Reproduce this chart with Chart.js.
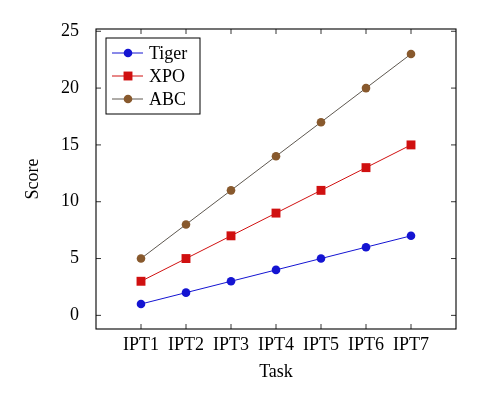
<!DOCTYPE html>
<html>
<head>
<meta charset="utf-8">
<script src="https://cdn.jsdelivr.net/npm/chart.js@4"></script>
<style>
    html, body { margin: 0; padding: 0; background: #fff; }
    #chart { display: block; }
</style>
</head>
<body>
<canvas id="chart" width="498" height="400"></canvas>
<script>
const tasks = ['IPT1', 'IPT2', 'IPT3', 'IPT4', 'IPT5', 'IPT6', 'IPT7'];
const tigerScores = [1, 2, 3, 4, 5, 6, 7];
const xpoScores = [3, 5, 7, 9, 11, 13, 15];
const abcScores = [5, 8, 11, 14, 17, 20, 23];
const yTicks = [0, 5, 10, 15, 20, 25];

const FONT = 'Liberation Serif';

function toPoints(values) {
    return values.map((v, i) => ({ x: i + 1, y: v }));
}

// pgfplots style: framed box with ticks pointing inwards on all sides
const frameTicks = {
    id: 'frameTicks',
    afterDatasetsDraw(chart) {
        const ctx = chart.ctx;
        const a = chart.chartArea;
        const xs = chart.scales.x;
        const ys = chart.scales.y;
        const len = 5;
        ctx.save();
        ctx.strokeStyle = '#000';
        ctx.lineWidth = 0.8;
        ctx.beginPath();
        xs.ticks.forEach((t) => {
            const px = xs.getPixelForValue(t.value);
            ctx.moveTo(px, a.bottom); ctx.lineTo(px, a.bottom - len);
            ctx.moveTo(px, a.top); ctx.lineTo(px, a.top + len);
        });
        ys.ticks.forEach((t) => {
            const py = ys.getPixelForValue(t.value);
            ctx.moveTo(a.left, py); ctx.lineTo(a.left + len, py);
            ctx.moveTo(a.right, py); ctx.lineTo(a.right - len, py);
        });
        ctx.stroke();
        ctx.lineWidth = 1.1;
        ctx.strokeRect(a.left, a.top, a.right - a.left, a.bottom - a.top);
        ctx.restore();
    }
};

// legend box inside the plot, top left
const boxLegend = {
    id: 'boxLegend',
    afterDraw(chart) {
        const ctx = chart.ctx;
        const a = chart.chartArea;
        const bx = a.left + 10, by = a.top + 9;
        const bw = 94, bh = 76;
        ctx.save();
        ctx.fillStyle = '#fff';
        ctx.fillRect(bx, by, bw, bh);
        ctx.strokeStyle = '#000';
        ctx.lineWidth = 1;
        ctx.strokeRect(bx, by, bw, bh);
        ctx.font = '18px "' + FONT + '"';
        ctx.textBaseline = 'middle';
        chart.data.datasets.forEach((ds, i) => {
            const y = by + 15 + i * 23;
            ctx.strokeStyle = ds.borderColor;
            ctx.lineWidth = 1;
            ctx.beginPath();
            ctx.moveTo(bx + 6, y);
            ctx.lineTo(bx + 37, y);
            ctx.stroke();
            ctx.fillStyle = ds.pointBackgroundColor;
            ctx.strokeStyle = 'rgba(0,0,0,0)';
            Chart.helpers.drawPoint(ctx, {
                pointStyle: ds.pointStyle,
                rotation: 0,
                radius: ds.pointRadius,
                borderWidth: 0
            }, bx + 22, y);
            ctx.fillStyle = '#000';
            ctx.fillText(ds.label, bx + 43, y + 1);
        });
        ctx.restore();
    }
};

new Chart(document.getElementById('chart'), {
    type: 'line',
    data: {
        datasets: [{
            label: 'Tiger',
            data: toPoints(tigerScores),
            borderColor: '#1414d2',
            pointBackgroundColor: '#1414d2',
            pointStyle: 'circle',
            pointRadius: 4.3
        }, {
            label: 'XPO',
            data: toPoints(xpoScores),
            borderColor: '#d01010',
            pointBackgroundColor: '#d01010',
            pointStyle: 'rect',
            pointRadius: 6.3
        }, {
            label: 'ABC',
            data: toPoints(abcScores),
            borderColor: '#5e5850',
            pointBackgroundColor: '#88592d',
            pointStyle: 'circle',
            pointRadius: 4.3
        }].map(ds => Object.assign(ds, {
            borderWidth: 1,
            pointBorderWidth: 0,
            pointBorderColor: 'rgba(0,0,0,0)',
            tension: 0,
            fill: false
        }))
    },
    options: {
        responsive: false,
        animation: false,
        layout: { padding: { left: 0, right: 42, top: 29, bottom: 0 } },
        plugins: {
            legend: { display: false },
            tooltip: { enabled: false }
        },
        scales: {
            x: {
                type: 'linear',
                min: 0,
                max: 8,
                afterBuildTicks: (scale) => {
                    scale.ticks = tasks.map((t, i) => ({ value: i + 1 }));
                },
                afterFit: (scale) => { scale.height = 71; },
                ticks: {
                    autoSkip: false,
                    maxRotation: 0,
                    padding: -3,
                    color: '#000',
                    font: { family: FONT, size: 18 },
                    callback: (v) => tasks[v - 1] || ''
                },
                grid: { display: false },
                border: { display: false },
                title: {
                    display: true,
                    text: 'Task',
                    color: '#000',
                    font: { family: FONT, size: 18 },
                    padding: { top: 0, bottom: 17 }
                }
            },
            y: {
                min: -1.2,
                max: 25.2,
                afterBuildTicks: (scale) => {
                    scale.ticks = yTicks.map(v => ({ value: v }));
                },
                afterFit: (scale) => { scale.width = 96; },
                ticks: {
                    padding: 9,
                    color: '#000',
                    font: { family: FONT, size: 18 }
                },
                grid: { display: false },
                border: { display: false },
                title: {
                    display: true,
                    text: 'Score',
                    color: '#000',
                    font: { family: FONT, size: 18 },
                    padding: { top: 22, bottom: 0 }
                }
            }
        }
    },
    plugins: [frameTicks, boxLegend]
});
</script>
</body>
</html>
